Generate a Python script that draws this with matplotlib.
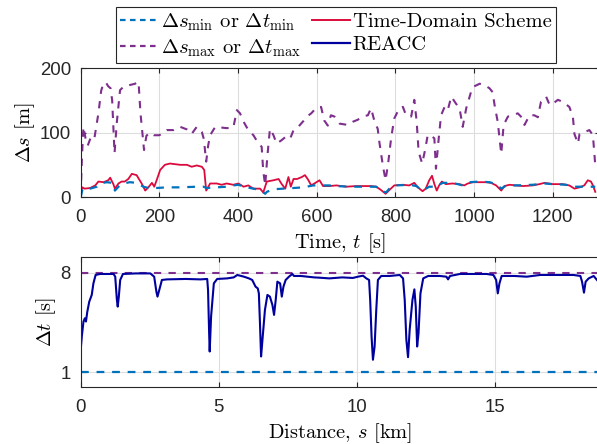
import matplotlib
matplotlib.use("Agg")
import matplotlib.pyplot as plt
from matplotlib.lines import Line2D

# ---------------- data ----------------
# Top panel: spacing in time domain
t_max = [0, 3, 7, 12, 18, 27, 35, 45, 52, 58,
         64, 70, 76, 80, 86, 92, 100, 108, 117, 125,
         138, 147, 152, 161, 167, 175, 186, 200, 219, 236,
         253, 270, 282, 295, 308, 313, 319, 324, 329, 342,
         371, 388, 397, 405, 414, 426, 439, 452, 460, 464,
         469, 474, 481, 490, 498, 510, 520, 532, 541, 553,
         566, 575, 586, 598, 611, 619, 628, 636, 645, 658,
         679, 692, 704, 717, 730, 738, 747, 755, 759, 768,
         775, 782, 789, 797, 810, 819, 827, 840, 848, 854,
         859, 868, 876, 882, 890, 899, 903, 910, 916, 925,
         933, 942, 954, 963, 971, 980, 992, 997, 1014, 1026,
         1039, 1047, 1052, 1060, 1069, 1075, 1086, 1098, 1111, 1119,
         1128, 1141, 1153, 1162, 1170, 1183, 1192, 1200, 1213, 1225,
         1242, 1251, 1255, 1264, 1268, 1281, 1293, 1302, 1308]
ds_max = [3, 60, 109, 92, 80, 95, 92, 130, 165, 177,
          178, 172, 169, 150, 68, 117, 166, 171, 172, 174,
          176, 179, 130, 73, 95, 100, 96, 96, 104, 104,
          109, 105, 98, 109, 101, 90, 55, 80, 96, 109,
          107, 108, 135, 130, 117, 104, 96, 83, 78, 40,
          18, 60, 106, 96, 83, 88, 93, 90, 104, 109,
          118, 125, 130, 138, 140, 119, 111, 127, 125, 114,
          112, 117, 120, 125, 127, 138, 117, 106, 86, 49,
          26, 55, 91, 122, 138, 140, 127, 125, 151, 117,
          70, 52, 75, 96, 96, 91, 44, 91, 127, 140,
          135, 156, 145, 138, 109, 138, 163, 171, 176, 174,
          169, 163, 143, 117, 67, 112, 125, 127, 130, 125,
          112, 127, 127, 124, 148, 156, 143, 145, 151, 148,
          140, 125, 98, 83, 98, 101, 104, 96, 49]

t_td = [0, 4, 10, 24, 37, 45, 58, 70, 75, 83,
        87, 96, 104, 112, 121, 130, 142, 155, 164, 172,
        181, 187, 193, 202, 214, 227, 240, 253, 270, 282,
        295, 308, 314, 319, 329, 346, 358, 371, 388, 401,
        414, 426, 439, 456, 464, 473, 490, 503, 511, 520,
        528, 534, 541, 550, 562, 570, 578, 586, 594, 607,
        616, 632, 650, 675, 700, 722, 738, 751, 763, 775,
        785, 797, 818, 835, 848, 857, 869, 877, 886, 893,
        899, 905, 911, 918, 928, 945, 962, 975, 984, 997,
        1014, 1031, 1043, 1056, 1069, 1077, 1090, 1107, 1124, 1149,
        1166, 1179, 1200, 1225, 1242, 1255, 1268, 1280, 1289, 1297,
        1302, 1308]
ds_td = [5, 15, 13, 14, 18, 24, 23, 26, 30, 20,
         13, 21, 24, 24, 28, 36, 34, 21, 10, 15,
         22, 16, 26, 42, 50, 52, 51, 50, 50, 47,
         49, 47, 42, 10, 21, 21, 19, 21, 19, 21,
         16, 18, 13, 13, 7, 24, 26, 28, 20, 13,
         31, 16, 28, 28, 31, 34, 27, 18, 21, 26,
         17, 17, 18, 16, 17, 17, 17, 16, 11, 5,
         11, 18, 19, 18, 22, 15, 9, 13, 26, 33,
         20, 10, 18, 24, 20, 21, 20, 18, 21, 23,
         23, 23, 22, 18, 10, 17, 19, 18, 17, 18,
         20, 22, 20, 20, 18, 13, 15, 18, 26, 24,
         18, 8]

t_min = [0, 5, 24, 41, 49, 66, 80, 87, 96, 108,
         125, 142, 159, 172, 193, 219, 253, 295, 312, 320,
         346, 371, 388, 401, 414, 439, 456, 469, 473, 490,
         515, 541, 566, 591, 608, 632, 650, 684, 717, 751,
         768, 776, 789, 802, 836, 853, 869, 886, 903, 920,
         945, 971, 988, 1014, 1039, 1056, 1069, 1082, 1107, 1149,
         1179, 1200, 1234, 1251, 1268, 1293, 1308]
ds_min = [0, 13, 13, 16, 21, 23, 22, 10, 16, 21,
          23, 22, 16, 14, 14, 15, 15, 16, 16, 14,
          15, 16, 18, 19, 16, 13, 11, 5, 8, 12,
          13, 14, 15, 18, 18, 18, 17, 16, 16, 16,
          9, 7, 16, 18, 19, 17, 10, 16, 16, 22,
          22, 18, 23, 24, 23, 20, 13, 18, 18, 19,
          21, 20, 19, 16, 16, 16, 16]

# Bottom panel: time headway vs distance
s_km = [0, 0.04, 0.10, 0.15, 0.19, 0.24, 0.31, 0.40, 0.46, 0.54,
        0.70, 1.00, 1.19, 1.25, 1.31, 1.34, 1.38, 1.43, 1.53, 2.00,
        2.52, 2.66, 2.74, 2.78, 2.86, 2.94, 3.12, 3.80, 4.33, 4.58,
        4.61, 4.65, 4.67, 4.72, 4.82, 4.94, 5.30, 5.54, 5.67, 5.91,
        6.09, 6.21, 6.33, 6.41, 6.45, 6.49, 6.53, 6.58, 6.67, 6.76,
        6.85, 6.94, 7.00, 7.06, 7.12, 7.22, 7.28, 7.34, 7.42, 7.54,
        7.66, 7.72, 7.97, 8.21, 8.45, 8.64, 9.00, 9.47, 9.85, 10.04,
        10.22, 10.34, 10.44, 10.48, 10.53, 10.58, 10.64, 10.70, 10.76, 10.88,
        11.19, 11.55, 11.67, 11.73, 11.79, 11.85, 11.91, 12.01, 12.08, 12.13,
        12.18, 12.23, 12.30, 12.40, 12.58, 13.00, 13.24, 13.30, 13.37, 13.73,
        14.21, 14.70, 14.94, 15.04, 15.10, 15.16, 15.24, 15.70, 16.15, 16.63,
        17.36, 17.84, 18.09, 18.15, 18.22, 18.28, 18.39, 18.57, 18.69]
dt_reacc = [2.59, 3.52, 4.57, 4.80, 4.57, 5.27, 5.97, 6.44, 7.25, 7.84,
            7.91, 7.91, 7.91, 7.72, 6.09, 5.62, 6.32, 7.49, 7.91, 7.95,
            7.95, 7.72, 6.67, 6.32, 6.90, 7.49, 7.53, 7.56, 7.53, 7.56,
            6.79, 3.75, 2.47, 4.92, 7.25, 7.56, 7.60, 7.67, 7.84, 7.72,
            7.60, 7.49, 7.02, 6.90, 6.55, 4.45, 2.12, 3.29, 5.39, 6.44,
            6.32, 5.74, 5.04, 6.09, 7.37, 7.25, 6.32, 7.02, 7.49, 7.72,
            7.91, 7.77, 7.77, 7.72, 7.67, 7.65, 7.60, 7.67, 7.63, 7.72,
            7.79, 7.60, 7.49, 6.09, 3.52, 1.89, 2.82, 5.39, 7.49, 7.77,
            7.77, 7.84, 7.60, 6.09, 3.29, 2.07, 4.00, 6.09, 6.83, 5.62,
            2.82, 3.75, 6.55, 7.60, 7.77, 7.77, 7.72, 7.53, 7.77, 7.91,
            7.91, 7.91, 7.84, 7.49, 6.55, 7.25, 7.77, 7.77, 7.72, 7.84,
            7.84, 7.84, 7.77, 7.37, 6.60, 7.37, 7.60, 7.77, 7.49]
dt_min_val = 1
dt_max_val = 8
s_range = [0, 18.8]

top_xticks = [0, 200, 400, 600, 800, 1000, 1200]
top_yticks = [0, 100, 200]
bot_xticks = [0, 5, 10, 15]
bot_yticks = [1, 8]

# ---------------- style ----------------
plt.rcParams['mathtext.fontset'] = 'cm'
plt.rcParams['axes.unicode_minus'] = False
C_MIN = '#0072BD'
C_MAX = '#7E2F8E'
C_TD = '#DC0A3C'
C_RE = '#00009E'
AXC = '#262626'
TICKFONT = dict(family='Liberation Sans', size=13.4)
LABFONT = dict(family='cmr10', size=14.7)
DASH = (3.5, 3.5)

W, H = 597, 444
fig = plt.figure(figsize=(W / 100, H / 100), dpi=100)


def rect(l, t, r, b):
    return [l / W, 1 - b / H, (r - l) / W, (b - t) / H]


ax1 = fig.add_axes(rect(80.7, 68.3, 600, 197))
ax2 = fig.add_axes(rect(80.7, 257.3, 600, 386.7))

# top panel
ax1.plot(t_max, ds_max, color=C_MAX, lw=1.5, ls='--', dashes=DASH)
ax1.plot(t_td, ds_td, color=C_TD, lw=1.3)
ax1.plot(t_min, ds_min, color=C_MIN, lw=1.6, ls='--', dashes=DASH)
ax1.set_xlim(0, 1320)
ax1.set_ylim(0, 200)
ax1.set_xticks(top_xticks)
ax1.set_yticks(top_yticks)
ax1.set_xlabel('Time, $t$ [s]', fontdict=LABFONT, labelpad=4)
ax1.set_ylabel(r'$\Delta s$ [m]', fontdict=LABFONT, labelpad=2)

# bottom panel
ax2.plot(s_range, [dt_max_val, dt_max_val], color=C_MAX, lw=1.5, ls='--', dashes=DASH)
ax2.plot(s_range, [dt_min_val, dt_min_val], color=C_MIN, lw=1.6, ls='--', dashes=DASH)
ax2.plot(s_km, dt_reacc, color=C_RE, lw=1.5)
ax2.set_xlim(0, 18.8)
ax2.set_ylim(0, 9.08)
ax2.set_xticks(bot_xticks)
ax2.set_yticks(bot_yticks)
ax2.set_xlabel('Distance, $s$ [km]', fontdict=LABFONT, labelpad=4)
ax2.set_ylabel(r'$\Delta t$ [s]', fontdict=LABFONT, labelpad=2)

for ax in (ax1, ax2):
    ax.grid(True, color='#DDDDDD', lw=0.8)
    ax.set_axisbelow(True)
    ax.tick_params(direction='in', length=3.5, width=0.8, colors=AXC,
                   top=True, right=True)
    ax.tick_params(axis='x', pad=8.5)
    ax.tick_params(axis='y', pad=7)
    for lab in ax.get_xticklabels() + ax.get_yticklabels():
        lab.set_fontfamily(TICKFONT['family'])
        lab.set_fontsize(TICKFONT['size'])
    for sp in ax.spines.values():
        sp.set_color(AXC)
        sp.set_linewidth(0.8)

handles = [
    Line2D([], [], color=C_MIN, lw=1.6, ls='--', dashes=(2.5, 2.0)),
    Line2D([], [], color=C_MAX, lw=1.6, ls='--', dashes=(2.5, 2.0)),
    Line2D([], [], color=C_TD, lw=1.4),
    Line2D([], [], color=C_RE, lw=1.6),
]
labels = [r'$\Delta s_{\min}$ or $\Delta t_{\min}$',
          r'$\Delta s_{\max}$ or $\Delta t_{\max}$',
          'Time-Domain Scheme',
          'REACC']
leg = fig.legend(handles, labels, ncol=2, loc='center',
                 bbox_to_anchor=(336 / W, 1 - 35 / H),
                 prop=dict(family='cmr10', size=14.8),
                 frameon=True, fancybox=False, framealpha=1,
                 edgecolor=AXC, handlelength=1.85, handletextpad=0.15,
                 columnspacing=0.5, labelspacing=0.2, borderpad=0.2,
                 borderaxespad=0)
leg.get_frame().set_linewidth(0.8)

fig.savefig('out.png', dpi=100)
